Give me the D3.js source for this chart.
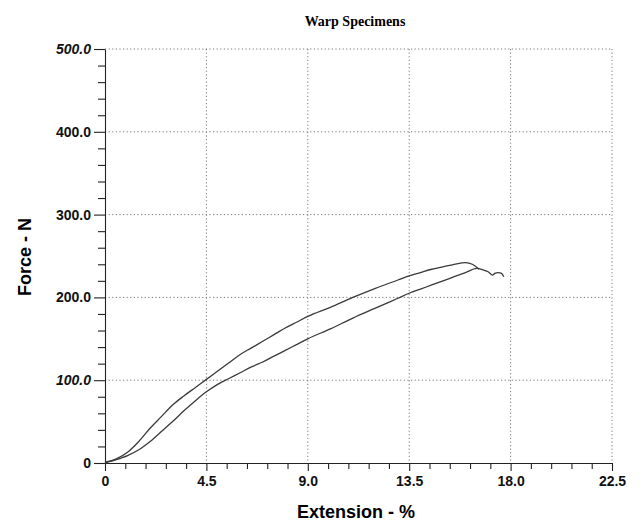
<!DOCTYPE html>
<html>
<head>
<meta charset="utf-8">
<script src="https://cdn.jsdelivr.net/npm/d3@7"></script>
<style>
  body { margin: 0; background: #fff; }
  .tick text { font-family: "Liberation Sans", Arial, sans-serif; font-weight: bold; font-size: 14px; fill: #111; }
  .grid line { stroke: #777; stroke-dasharray: 1.2,2.4; }
</style>
</head>
<body>
<script>
// extension (%) and force (N)
const upperExt   = [0, 0.5, 1.0, 1.5, 2.0, 2.5, 3.0, 3.5, 4.0, 4.5, 5.0, 5.5, 6.0, 6.5, 7.0, 7.5, 8.0, 8.5, 9.0, 10.0, 11.0, 12.0, 13.0, 13.5, 14.0, 14.5, 15.0, 15.5, 16.0, 16.3, 16.6];
const upperForce = [1, 5, 13, 26, 42, 56, 70, 81, 91, 101, 111, 121, 131, 139, 147, 155, 163, 170, 177, 188, 200, 211, 221, 226, 230, 234, 237, 240, 242, 240, 234];

const lowerExt   = [0, 0.5, 1.0, 1.5, 2.0, 2.5, 3.0, 3.5, 4.0, 4.5, 5.0, 5.5, 6.0, 6.5, 7.0, 7.5, 8.0, 8.5, 9.0, 10.0, 11.0, 12.0, 13.0, 13.5, 14.0, 14.5, 15.0, 15.5, 16.0, 16.5, 16.8, 17.0, 17.2, 17.3, 17.45, 17.6, 17.7];
const lowerForce = [0, 4, 9, 16, 26, 38, 50, 63, 75, 86, 95, 102, 109, 116, 122, 129, 136, 143, 150, 162, 175, 187, 199, 205, 210, 215, 220, 225, 230, 235, 233, 231, 227, 229, 230, 229, 225];

const xTicks = [0, 4.5, 9.0, 13.5, 18.0, 22.5];
const xMinor = [0.9, 1.8, 2.7, 3.6, 5.4, 6.3, 7.2, 8.1, 9.9, 10.8, 11.7, 12.6, 14.4, 15.3, 16.2, 17.1, 18.9, 19.8, 20.7, 21.6];
const yTicks = [0, 100, 200, 300, 400, 500];
const yMinor = [20, 40, 60, 80, 120, 140, 160, 180, 220, 240, 260, 280, 320, 340, 360, 380, 420, 440, 460, 480];
const italicTicks = [100, 500];

const margin = {top: 49, right: 31, bottom: 60, left: 105};
const width = 643 - margin.left - margin.right;
const height = 523 - margin.top - margin.bottom;

const svg = d3.select("body").append("svg")
    .attr("width", 643)
    .attr("height", 523);

const g = svg.append("g")
    .attr("transform", "translate(" + margin.left + "," + margin.top + ")");

const x = d3.scaleLinear().domain([0, 22.5]).range([0, width]);
const y = d3.scaleLinear().domain([0, 500]).range([height, 0]);

// dotted grid
g.append("g").attr("class", "grid")
  .selectAll("line")
  .data(xTicks.slice(1))
  .join("line")
    .attr("x1", d => x(d)).attr("x2", d => x(d))
    .attr("y1", 0).attr("y2", height);

g.append("g").attr("class", "grid")
  .selectAll("line")
  .data(yTicks.slice(1))
  .join("line")
    .attr("x1", 0).attr("x2", width)
    .attr("y1", d => y(d)).attr("y2", d => y(d));

// minor ticks
g.append("g")
    .attr("transform", "translate(0," + height + ")")
    .call(d3.axisBottom(x).tickValues(xMinor).tickSize(6).tickSizeOuter(0).tickFormat(""))
    .call(a => a.select(".domain").remove());

g.append("g")
    .call(d3.axisLeft(y).tickValues(yMinor).tickSize(7).tickSizeOuter(0).tickFormat(""))
    .call(a => a.select(".domain").remove());

// major axes
const xAxis = g.append("g")
    .attr("transform", "translate(0," + height + ")")
    .call(d3.axisBottom(x).tickValues(xTicks).tickSize(8).tickSizeOuter(0)
      .tickPadding(5).tickFormat(d => d === 0 ? "0" : d3.format(".1f")(d)));

const yAxis = g.append("g")
    .call(d3.axisLeft(y).tickValues(yTicks).tickSize(11).tickSizeOuter(0)
      .tickPadding(3).tickFormat(d => d === 0 ? "0" : d3.format(".1f")(d)));

yAxis.selectAll(".tick text")
    .style("font-style", d => italicTicks.includes(d) ? "italic" : "normal");

svg.selectAll(".domain, .tick line").attr("stroke", "#222").attr("stroke-width", 1.1);

// curves
const line = d3.line()
    .x(d => x(d[0]))
    .y(d => y(d[1]))
    .curve(d3.curveMonotoneX);

const series = [
  d3.zip(upperExt, upperForce),
  d3.zip(lowerExt, lowerForce)
];

g.selectAll(".curve")
  .data(series)
  .join("path")
    .attr("class", "curve")
    .attr("d", line)
    .attr("fill", "none")
    .attr("stroke", "#3a3a3a")
    .attr("stroke-width", 1.3)
    .attr("stroke-linejoin", "round");

// titles
svg.append("text")
    .attr("x", 355)
    .attr("y", 26)
    .attr("text-anchor", "middle")
    .style("font-family", "'Liberation Serif', 'Times New Roman', serif")
    .style("font-weight", "bold")
    .style("font-size", "14px")
    .text("Warp Specimens");

svg.append("text")
    .attr("x", 356)
    .attr("y", 518)
    .attr("text-anchor", "middle")
    .style("font-family", "'Liberation Sans', Arial, sans-serif")
    .style("font-weight", "bold")
    .style("font-size", "18px")
    .text("Extension - %");

svg.append("text")
    .attr("transform", "translate(31,257) rotate(-90)")
    .attr("text-anchor", "middle")
    .style("font-family", "'Liberation Sans', Arial, sans-serif")
    .style("font-weight", "bold")
    .style("font-size", "18px")
    .text("Force - N");
</script>
</body>
</html>
